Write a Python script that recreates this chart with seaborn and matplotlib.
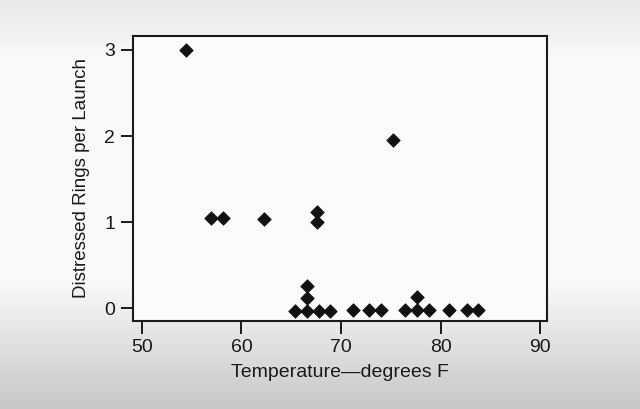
import numpy as np
import pandas as pd
import matplotlib
matplotlib.use('Agg')
import matplotlib.pyplot as plt
import seaborn as sns

# Launch temperature (deg F) and distressed O-rings
# (stacked zeros are drawn slightly offset in the original)
temperature = [54.4, 56.9, 58.1, 62.3, 67.6, 67.6, 75.2,
               65.4, 66.6, 66.6, 66.6, 67.8, 68.9, 71.2, 72.8, 74.0,
               76.4, 77.6, 77.6, 78.8, 80.9, 82.7, 83.8]
rings = [3.0, 1.05, 1.05, 1.04, 1.12, 1.0, 1.95,
         -0.03, -0.03, 0.12, 0.26, -0.03, -0.03, -0.02, -0.02, -0.02,
         -0.02, -0.02, 0.13, -0.02, -0.02, -0.02, -0.02]

x_ticks = [50, 60, 70, 80, 90]
y_ticks = [0, 1, 2, 3]

df = pd.DataFrame({"temp": temperature, "rings": rings})

sns.set_style("white")
plt.rcParams['font.family'] = ['Liberation Sans', 'DejaVu Sans']

fig = plt.figure(figsize=(6.4, 4.09), dpi=100)

# soft grey photo-like background
bg = fig.add_axes([0, 0, 1, 1], zorder=-5)
grad = np.concatenate([np.linspace(0.91, 0.975, 60),
                       np.linspace(0.975, 0.975, 220),
                       np.linspace(0.975, 0.78, 129)])
bg.imshow(np.tile(grad[:, None], (1, 10)), cmap='gray', vmin=0, vmax=1,
          aspect='auto', extent=[0, 1, 0, 1])
bg.axis('off')

ax = fig.add_axes([133 / 640, 1 - 321 / 409, 414 / 640, 285 / 409])
ax.set_facecolor('#fbfbfb')
sns.scatterplot(data=df, x="temp", y="rings", marker='D', s=48,
                color='#111111', edgecolor='#111111', linewidth=0.5, ax=ax)

ax.set_xlim(49.1, 90.7)
ax.set_ylim(-0.145, 3.16)
ax.set_xticks(x_ticks)
ax.set_yticks(y_ticks)
ax.tick_params(bottom=True, left=True, direction='out', length=9, width=1.4,
               color='#1a1a1a', labelsize=14, labelcolor='#1a1a1a', pad=4)
for sp in ax.spines.values():
    sp.set_linewidth(1.5)
    sp.set_color('#1a1a1a')

ax.set_xlabel("Temperature\u2014degrees F", fontsize=14, color='#1a1a1a', labelpad=6)
ax.set_ylabel("Distressed Rings per Launch", fontsize=13.5, color='#1a1a1a', labelpad=10)

fig.savefig("out.png", dpi=100, facecolor=fig.get_facecolor())
